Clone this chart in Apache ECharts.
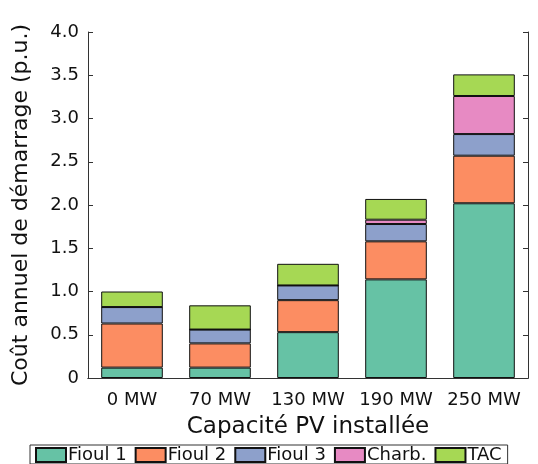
<!DOCTYPE html>
<html>
<head>
<meta charset="utf-8">
<script src="https://cdn.jsdelivr.net/npm/echarts@6/dist/echarts.min.js"></script>
<style>
  html, body { margin: 0; padding: 0; background: #fff; }
  #chart { width: 538px; height: 464px; }
</style>
</head>
<body>
<div id="chart"></div>
<script>
// catégories et valeurs
const categories = ['0 MW', '70 MW', '130 MW', '190 MW', '250 MW'];
const fioul1 = [0.12, 0.12, 0.53, 1.14, 2.02];
const fioul2 = [0.51, 0.28, 0.37, 0.44, 0.55];
const fioul3 = [0.19, 0.16, 0.17, 0.20, 0.25];
const charb  = [0.00, 0.00, 0.00, 0.05, 0.44];
const tac    = [0.18, 0.28, 0.25, 0.24, 0.25];

const FONT = 'DejaVu Sans';

const seriesDefs = [
  { name: 'Fioul 1', data: fioul1, color: '#66c2a5' },
  { name: 'Fioul 2', data: fioul2, color: '#fc8d62' },
  { name: 'Fioul 3', data: fioul3, color: '#8da0cb' },
  { name: 'Charb.',  data: charb,  color: '#e78ac3' },
  { name: 'TAC',     data: tac,    color: '#a6d854' }
];

const myChart = echarts.init(document.getElementById('chart'), null, { renderer: 'canvas' });

const axisLine = { show: true, lineStyle: { color: '#333', width: 1 } };

const option = {
  animation: false,
  textStyle: { fontFamily: FONT },
  grid: { left: 88, right: 10, top: 32, bottom: 86 },
  legend: {
    bottom: 0,
    left: 30,
    icon: 'rect',
    itemWidth: 30,
    itemHeight: 14,
    itemGap: 8,
    padding: [1, 6, 0, 5],
    borderColor: '#333',
    borderWidth: 1,
    textStyle: { fontFamily: FONT, fontSize: 18, color: '#111', padding: [0, 0, 0, -3] },
    data: seriesDefs.map(s => s.name)
  },
  xAxis: [{
    type: 'category',
    data: categories,
    axisLine: axisLine,
    axisTick: { show: false },
    axisLabel: { fontFamily: FONT, fontSize: 18, color: '#111', margin: 13, interval: 0 },
    name: 'Capacité PV installée',
    nameLocation: 'middle',
    nameGap: 38,
    nameTextStyle: { fontFamily: FONT, fontSize: 23, color: '#111' }
  }, {
    type: 'category',
    position: 'top',
    data: categories,
    axisLine: axisLine,
    axisTick: { show: false },
    axisLabel: { show: false }
  }],
  yAxis: [{
    type: 'value',
    min: 0,
    max: 4,
    interval: 0.5,
    axisLine: axisLine,
    axisTick: { show: true, inside: true, length: 5, lineStyle: { color: '#333' } },
    splitLine: { show: false },
    axisLabel: {
      fontFamily: FONT, fontSize: 18, color: '#111', margin: 9,
      formatter: v => v === 0 ? '0' : v.toFixed(1)
    },
    name: 'Coût annuel de démarrage (p.u.)',
    nameLocation: 'middle',
    nameGap: 56,
    nameTextStyle: { fontFamily: FONT, fontSize: 22, color: '#111' }
  }, {
    type: 'value',
    position: 'right',
    min: 0,
    max: 4,
    interval: 0.5,
    axisLine: axisLine,
    axisTick: { show: true, inside: true, length: 5, lineStyle: { color: '#333' } },
    splitLine: { show: false },
    axisLabel: { show: false }
  }],
  series: seriesDefs.map(s => ({
    name: s.name,
    type: 'bar',
    stack: 'total',
    barWidth: '70%',
    data: s.data,
    itemStyle: { color: s.color, borderColor: '#111', borderWidth: 1 }
  }))
};

myChart.setOption(option);
</script>
</body>
</html>
